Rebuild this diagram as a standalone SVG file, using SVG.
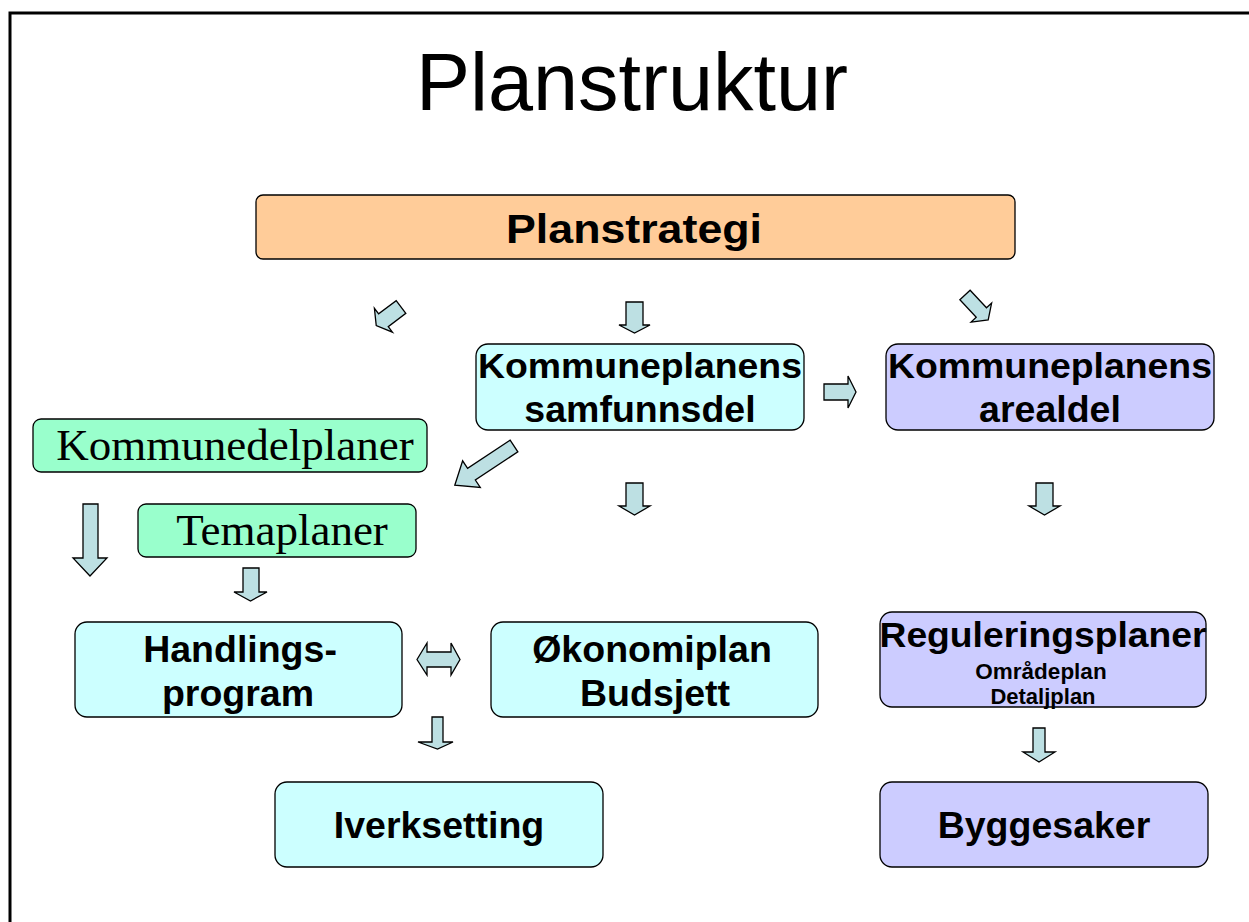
<svg xmlns="http://www.w3.org/2000/svg" width="1249" height="922" viewBox="0 0 1249 922">
<style>
.box{stroke:#000;stroke-width:1.3}
.or{fill:#ffcc99}
.cy{fill:#ccffff}
.lv{fill:#ccccff}
.gr{fill:#99ffcc}
.t{font-family:"Liberation Sans",Arial,sans-serif;font-weight:bold;text-anchor:middle;fill:#000}
.s{font-family:"Liberation Serif","Times New Roman",serif;text-anchor:middle;fill:#000}
.ar{fill:#bde0e3;stroke:#000;stroke-width:1.3;stroke-linejoin:miter}
</style>
<rect width="1249" height="922" fill="#fff"/>
<path d="M10,922 V13 H1249" fill="none" stroke="#000" stroke-width="3"/>
<text x="632" y="110" font-family="Liberation Sans,Arial,sans-serif" font-size="81" text-anchor="middle">Planstruktur</text>

<g id="planstrategi">
<rect class="box or" x="256" y="195" width="759" height="64" rx="7"/>
<text class="t" x="634" y="243" font-size="40" textLength="256" lengthAdjust="spacingAndGlyphs">Planstrategi</text>
</g>
<g id="samfunnsdel">
<rect class="box cy" x="476" y="344" width="328" height="86" rx="12"/>
<text class="t" x="640" y="378" font-size="35" textLength="324" lengthAdjust="spacingAndGlyphs">Kommuneplanens</text>
<text class="t" x="640" y="422" font-size="37.5">samfunnsdel</text>
</g>
<g id="arealdel">
<rect class="box lv" x="886" y="344" width="328" height="86" rx="12"/>
<text class="t" x="1050" y="378" font-size="35" textLength="324" lengthAdjust="spacingAndGlyphs">Kommuneplanens</text>
<text class="t" x="1050" y="422" font-size="37.5">arealdel</text>
</g>
<g id="kommunedelplaner">
<rect class="box gr" x="33" y="419" width="394" height="53" rx="8"/>
<text class="s" x="235" y="460" font-size="45">Kommunedelplaner</text>
</g>
<g id="temaplaner">
<rect class="box gr" x="138" y="504" width="278" height="53" rx="8"/>
<text class="s" x="282" y="545" font-size="45">Temaplaner</text>
</g>
<g id="handlingsprogram">
<rect class="box cy" x="75" y="622" width="327" height="95" rx="12"/>
<text class="t" x="240" y="662" font-size="37.5">Handlings-</text>
<text class="t" x="238" y="706" font-size="37.5">program</text>
</g>
<g id="okonomiplan">
<rect class="box cy" x="491" y="622" width="327" height="95" rx="12"/>
<text class="t" x="652" y="662" font-size="37.5">Økonomiplan</text>
<text class="t" x="655" y="706" font-size="37.5">Budsjett</text>
</g>
<g id="reguleringsplaner">
<rect class="box lv" x="880" y="612" width="326" height="95" rx="12"/>
<text class="t" x="1043" y="647" font-size="35" textLength="327" lengthAdjust="spacingAndGlyphs">Reguleringsplaner</text>
<text class="t" x="1041" y="679" font-size="22.5">Områdeplan</text>
<text class="t" x="1043" y="704" font-size="22">Detaljplan</text>
</g>
<g id="iverksetting">
<rect class="box cy" x="275" y="782" width="328" height="85" rx="12"/>
<text class="t" x="439" y="838" font-size="37.5">Iverksetting</text>
</g>
<g id="byggesaker">
<rect class="box lv" x="880" y="782" width="328" height="85" rx="12"/>
<text class="t" x="1044" y="838" font-size="37.5">Byggesaker</text>
</g>

<g id="connectors">
<polygon class="ar" transform="translate(401,307) rotate(53)" points="-8,0 8,0 8,22 15,22 0,31 -15,22 -8,22"/>
<polygon class="ar" points="626,302 643,302 643,325 650,325 634.5,333 619,325 626,325"/>
<polygon class="ar" transform="translate(965,295) rotate(-43)" points="-7,0 7,0 7,24 14,24 0,34 -14,24 -7,24"/>
<polygon class="ar" points="824,384 848,384 848,376 856,392 848,408 848,400 824,400"/>
<polygon class="ar" transform="translate(514,446) rotate(56.5)" points="-7,0 7,0 7,51 16,51 0,71 -16,51 -7,51"/>
<polygon class="ar" points="626,483 643,483 643,506 650,506 634.5,515 619,506 626,506"/>
<polygon class="ar" points="1036,483 1053,483 1053,506 1060,506 1044.5,515 1029,506 1036,506"/>
<polygon class="ar" points="83,504 98,504 98,558 107,558 90,576 73,558 83,558"/>
<polygon class="ar" points="243,568 259,568 259,592 267,592 250.5,601 234,592 243,592"/>
<polygon class="ar" points="417,659.5 427,643 427,652 451,652 451,643 460,659.5 451,675 451,667 427,667 427,675"/>
<polygon class="ar" points="432,717 443,717 443,742 453,742 437.5,749 418,742 432,742"/>
<polygon class="ar" points="1033,728 1045,728 1045,752 1055,752 1039,762 1023,752 1033,752"/>
</g>
</svg>
